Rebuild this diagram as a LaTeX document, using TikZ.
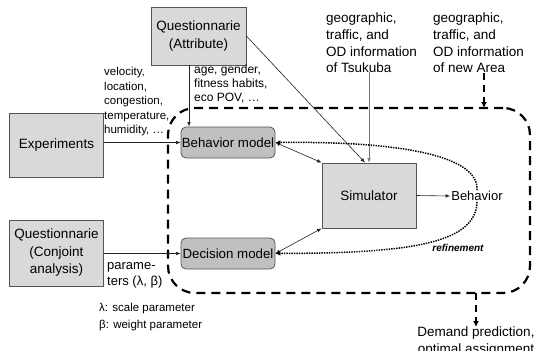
\documentclass[tikz,border=0pt]{standalone}
\usepackage{fontspec}
\setmainfont{Liberation Sans}
\usetikzlibrary{arrows.meta,calc}
\definecolor{boxfill}{HTML}{D9D9D9}
\definecolor{modelfill}{HTML}{C0C0C0}
\definecolor{edgec}{HTML}{555555}
\definecolor{linec}{HTML}{222222}
\begin{document}
\begin{tikzpicture}[x=1pt,y=-1pt,
  box/.style={draw=edgec, fill=boxfill, line width=0.8pt, inner sep=0pt, align=center,
    font=\fontsize{13.5}{17.5}\selectfont},
  model/.style={draw=edgec, fill=modelfill, rounded corners=5pt, line width=0.8pt, inner sep=0pt,
    minimum width=94pt, minimum height=31pt, font=\fontsize{13.3}{15}\selectfont},
  lbl/.style={inner sep=0pt, align=left},
  arr/.style={draw=linec, line width=0.6pt, -{Latex[length=4.5pt,width=3.6pt]}},
  biarr/.style={draw=linec, line width=0.6pt, {Latex[length=4.5pt,width=3.6pt]}-{Latex[length=4.5pt,width=3.6pt]}},
  dotarr/.style={draw=black, line width=1.5pt, dash pattern=on 1.4pt off 1.1pt, -{Latex[length=5pt,width=4.5pt]}},
  framestyle/.style={draw=black, line width=2.2pt, dash pattern=on 9pt off 6pt, rounded corners=27pt},
  dasharr/.style={draw=black, line width=2pt, dash pattern=on 7pt off 5pt, -{Latex[length=6pt,width=6pt]}}
]
\useasboundingbox (0,0) rectangle (536,351);

% dashed frame
\node[framestyle, minimum width=362pt, minimum height=185pt, inner sep=0pt] (frame) at (349,200.5) {};

% boxes
\node[box, minimum width=95pt, minimum height=58pt] (qa) at (198.5,36) {Questionnarie\\(Attribute)};
\node[box, minimum width=94pt, minimum height=64pt] (exp) at (56.5,145) {Experiments};
\node[box, minimum width=94pt, minimum height=66pt] (qc) at (56.5,253) {Questionnarie\\(Conjoint\\analysis)};
\node[model] (bm) at (228,142.5) {Behavior model};
\node[model] (dm) at (228,253.5) {Decision model};
\node[box, minimum width=94pt, minimum height=65pt] (sim) at (369,195.5) {Simulator};
\node[inner sep=1pt, font=\fontsize{13}{15}\selectfont] (beh) at (477,196) {Behavior};

% text labels
\node[lbl, anchor=west, font=\fontsize{11.5}{14.5}\selectfont] (vel) at (104,102)
  {velocity,\\location,\\congestion,\\temperature,\\humidity, …};
\node[lbl, anchor=west, font=\fontsize{12}{14}\selectfont] (age) at (194,84)
  {age, gender,\\fitness habits,\\eco POV, …};
\node[lbl, anchor=west, font=\fontsize{13.5}{16.7}\selectfont] (tsu) at (326,43)
  {geographic,\\traffic, and\\OD information\\of Tsukuba};
\node[lbl, anchor=west, font=\fontsize{13.5}{16.7}\selectfont] (area) at (433,43)
  {geographic,\\traffic, and\\OD information\\of new Area};
\node[lbl, anchor=west, font=\fontsize{13}{15.5}\selectfont] (par) at (107,275.5)
  {parame-\\ters (λ, β)};
\node[lbl, anchor=west, font=\fontsize{11.5}{16.5}\selectfont] (leg) at (99,317)
  {λ: scale parameter\\β: weight parameter};
\node[inner sep=0pt, align=center, anchor=north, font=\fontsize{13.5}{17}\selectfont] (dem) at (476,327)
  {Demand prediction,\\optimal assignment};
\node[inner sep=0pt, font=\fontsize{10}{12}\selectfont\bfseries\itshape] (ref) at (458,248) {refinement};

% connectors
\draw[arr] (bm.west -| exp.east) -- (bm.west);
\draw[arr] (dm.west -| qc.east) -- (dm.west);
\draw[arr] ([xshift=-9.5pt]qa.south) -- ([xshift=-9.5pt]qa.south |- bm.north);
\draw[arr] (qa.east) -- ([xshift=-4pt]sim.north);
\draw[arr, draw=black!55] ([yshift=1pt]tsu.south -| sim.north) -- (sim.north);
\draw[arr] (sim.east) -- (beh.west);
\draw[biarr] (bm.east) -- (sim.north west);
\draw[biarr] (dm.east) -- (sim.south west);
\draw[dotarr] (beh.north) .. controls (479,158) and (410,141) .. (bm.east);
\draw[dotarr] (beh.south) .. controls (476,246) and (400,253) .. (dm.east);

\coordinate (ain) at (484,108);
\draw[dasharr] (area.south -| ain) -- (ain);
\coordinate (aout) at (476,293);
\draw[dasharr] (aout) -- (dem.north -| aout);
\end{tikzpicture}
\end{document}
